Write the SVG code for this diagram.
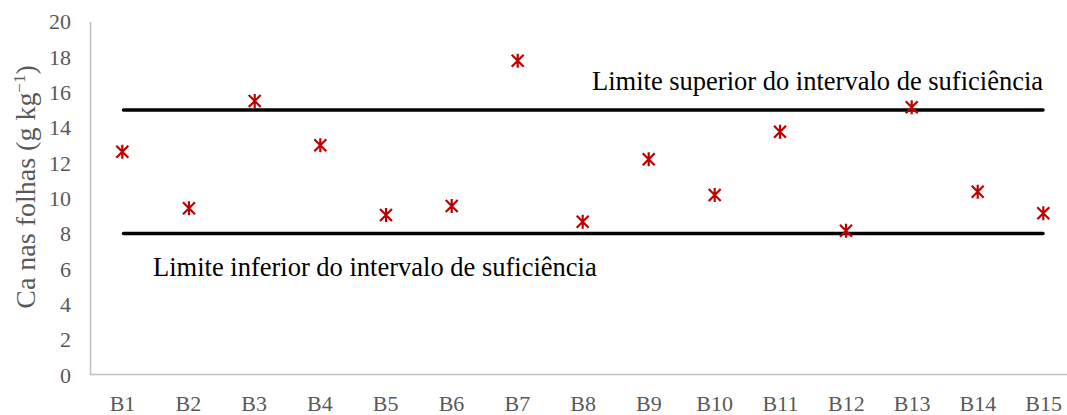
<svg xmlns="http://www.w3.org/2000/svg" xmlns:xlink="http://www.w3.org/1999/xlink" width="1067" height="415" viewBox="0 0 1067 415">
<style>
text{font-family:'Liberation Serif','Times New Roman',Times,'DejaVu Serif',serif}
.tick{font-size:22px;fill:#595959}
.ty{text-anchor:end}
.tx{text-anchor:middle}
.title{font-size:28px;fill:#595959}
.lbl{font-size:26.5px;fill:#000}
.axis{stroke:#BFBFBF;stroke-width:1.5;fill:none}
.lim{stroke:#000;stroke-width:3.5;stroke-linecap:round}
</style>
<defs>
<path id="m" d="M0,-7V7M-6,-6L6,6M-6,6L6,-6" stroke="#C00000" stroke-width="2.2" fill="none"/>
</defs>
<rect width="1067" height="415" fill="#fff"/>
<g id="axes">
<line class="axis" x1="90.5" y1="22" x2="90.5" y2="375"/>
<line class="axis" x1="90" y1="374.5" x2="1067" y2="374.5"/>
</g>
<g id="yticks" class="tick ty" font-family="Liberation Serif, serif">
<text x="71" y="382.5">0</text>
<text x="71" y="347.2">2</text>
<text x="71" y="311.9">4</text>
<text x="71" y="276.6">6</text>
<text x="71" y="241.3">8</text>
<text x="71" y="206">10</text>
<text x="71" y="170.6">12</text>
<text x="71" y="135.3">14</text>
<text x="71" y="100">16</text>
<text x="71" y="64.7">18</text>
<text x="71" y="29.4">20</text>
</g>
<g id="xticks" class="tick tx">
<text x="122.5" y="411">B1</text>
<text x="188.3" y="411">B2</text>
<text x="254.1" y="411">B3</text>
<text x="319.9" y="411">B4</text>
<text x="385.7" y="411">B5</text>
<text x="451.5" y="411">B6</text>
<text x="517.3" y="411">B7</text>
<text x="583.1" y="411">B8</text>
<text x="648.9" y="411">B9</text>
<text x="714.7" y="411">B10</text>
<text x="780.5" y="411">B11</text>
<text x="846.3" y="411">B12</text>
<text x="912.1" y="411">B13</text>
<text x="977.9" y="411">B14</text>
<text x="1043.7" y="411">B15</text>
</g>
<g id="ytitle">
<text class="title" transform="translate(35,187) rotate(-90)" text-anchor="middle">Ca nas folhas (g kg<tspan font-size="17" dy="-10">−1</tspan><tspan dy="10">)</tspan></text>
</g>
<g id="limits">
<line class="lim" x1="123.5" y1="110" x2="1043" y2="110"/>
<line class="lim" x1="123.5" y1="233.5" x2="1043" y2="233.5"/>
<text class="lbl" x="592" y="90">Limite superior do intervalo de suficiência</text>
<text class="lbl" x="153" y="276">Limite inferior do intervalo de suficiência</text>
</g>
<g id="points">
<use xlink:href="#m" x="122.3" y="151.7"/>
<use xlink:href="#m" x="189" y="208.3"/>
<use xlink:href="#m" x="254.7" y="101"/>
<use xlink:href="#m" x="320.3" y="145.3"/>
<use xlink:href="#m" x="386" y="215"/>
<use xlink:href="#m" x="451.7" y="206"/>
<use xlink:href="#m" x="517.7" y="60.7"/>
<use xlink:href="#m" x="582.7" y="221.7"/>
<use xlink:href="#m" x="648.7" y="159.3"/>
<use xlink:href="#m" x="714.7" y="195"/>
<use xlink:href="#m" x="780" y="131.7"/>
<use xlink:href="#m" x="846" y="230.7"/>
<use xlink:href="#m" x="911.7" y="107.3"/>
<use xlink:href="#m" x="977.7" y="191.7"/>
<use xlink:href="#m" x="1043.3" y="213.3"/>
</g>
</svg>
